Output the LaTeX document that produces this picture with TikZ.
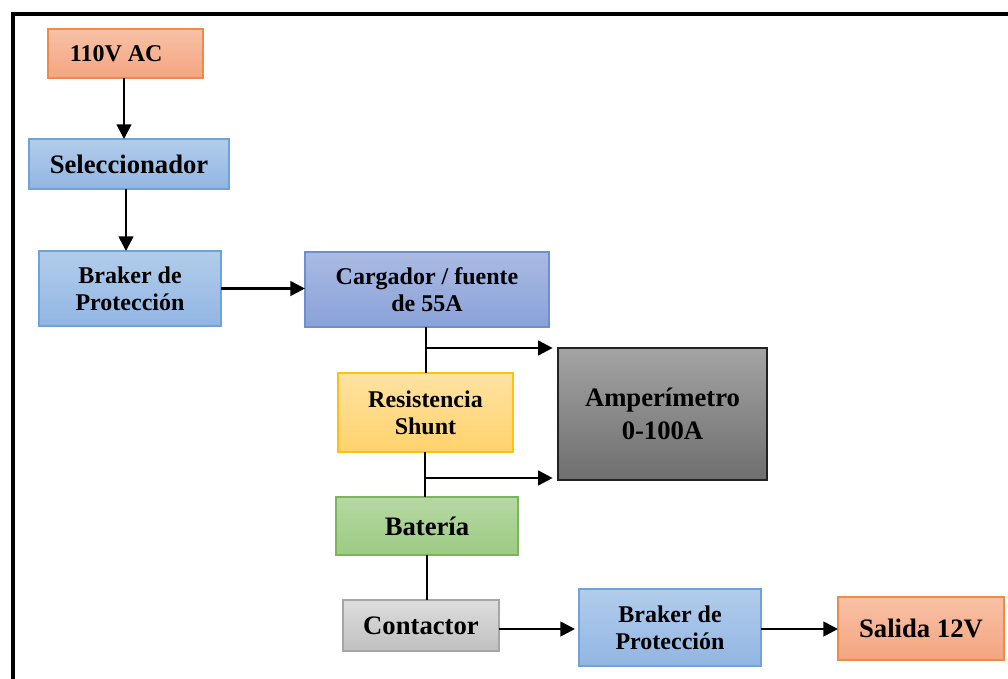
\documentclass[tikz,border=0pt]{standalone}
\usepackage{fontspec}
\setmainfont{Liberation Serif}
\usetikzlibrary{arrows.meta,calc}
\definecolor{orT}{HTML}{F8C1A6}\definecolor{orB}{HTML}{F4A580}\definecolor{orD}{HTML}{EF8A48}
\definecolor{blT}{HTML}{B2CDEB}\definecolor{blB}{HTML}{91B5E3}\definecolor{blD}{HTML}{6FA2D8}
\definecolor{cgT}{HTML}{AABAE3}\definecolor{cgB}{HTML}{8AA2D9}\definecolor{cgD}{HTML}{6C8FD0}
\definecolor{ylT}{HTML}{FFE3A2}\definecolor{ylB}{HTML}{FFD26C}\definecolor{ylD}{HTML}{FFC20A}
\definecolor{amT}{HTML}{A4A4A4}\definecolor{amB}{HTML}{6E6E6E}\definecolor{amD}{HTML}{222222}
\definecolor{gnT}{HTML}{B6D8A4}\definecolor{gnB}{HTML}{9CCB83}\definecolor{gnD}{HTML}{7CB45A}
\definecolor{ctT}{HTML}{DDDDDD}\definecolor{ctB}{HTML}{C0C0C0}\definecolor{ctD}{HTML}{A6A6A6}
\begin{document}
\begin{tikzpicture}[x=0.75pt,y=-0.75pt,
  box/.style={inner sep=0pt,outer sep=0pt,line width=0.9pt,align=center,font=\bfseries\fontsize{18}{20.5}\selectfont},
  big/.style={font=\bfseries\fontsize{20}{25}\selectfont},
  orbox/.style={box,draw=orD,top color=orT,bottom color=orB},
  blbox/.style={box,draw=blD,top color=blT,bottom color=blB},
  cgbox/.style={box,draw=cgD,top color=cgT,bottom color=cgB},
  ylbox/.style={box,draw=ylD,top color=ylT,bottom color=ylB},
  ambox/.style={box,draw=amD,top color=amT,bottom color=amB},
  gnbox/.style={box,draw=gnD,top color=gnT,bottom color=gnB},
  ctbox/.style={box,draw=ctD,top color=ctT,bottom color=ctB},
  arr/.style={line width=2pt,-{Triangle[length=11pt,width=11pt]}},
  ln/.style={line width=2pt},
  frame/.style={line width=3pt,line cap=rect}]
\useasboundingbox (0,0) rectangle (1008,679);
\draw[frame] (13,690) -- (13,14) -- (1020,14);

\node[orbox,minimum width=116.25pt,minimum height=36.75pt] (ac) at (125.5,53.5) {\hbox{110V AC\hspace*{14pt}}};
\node[blbox,big,minimum width=150pt,minimum height=37.5pt] (sel) at (129,164) {Seleccionador};
\node[blbox,minimum width=136.5pt,minimum height=56.25pt] (br1) at (130,288.5) {Braker de\\Protección};
\node[cgbox,minimum width=183pt,minimum height=56.25pt] (car) at (427,289.5) {Cargador / fuente\\de 55A};
\node[ylbox,minimum width=131.25pt,minimum height=59.25pt] (res) at (425.5,412.5) {Resistencia\\Shunt};
\node[ambox,big,minimum width=156.75pt,minimum height=99pt] (amp) at (662.5,414) {Amperímetro\\0-100A};
\node[gnbox,big,minimum width=136.5pt,minimum height=43.5pt] (bat) at (427,526) {Batería};
\node[ctbox,big,minimum width=117pt,minimum height=38.25pt] (con) at (421,625.5) {Contactor};
\node[blbox,minimum width=136.5pt,minimum height=57.75pt] (br2) at (670,627.5) {Braker de\\Protección};
\node[orbox,big,minimum width=124.5pt,minimum height=47.25pt] (sal) at (921,628.5) {Salida 12V};

\coordinate (j1) at (426,348);
\coordinate (j2) at (425,478);
\coordinate (a1) at (124,0);
\coordinate (a2) at (126,0);
\coordinate (h) at (0,629);

\draw[arr] (ac.south -| a1) -- (sel.north -| a1);
\draw[arr] (sel.south -| a2) -- (br1.north -| a2);
\draw[arr] (br1.east) -- (br1.east -| car.west);
\draw[ln] (car.south -| j1) -- (res.north -| j1);
\draw[arr,shorten >=4pt] (j1) -- (j1 -| amp.west);
\draw[ln] (res.south -| j2) -- (bat.north -| j2);
\draw[arr,shorten >=4pt] (j2) -- (j2 -| amp.west);
\draw[ln] (bat.south) -- (con.north -| bat.south);
\draw[arr,shorten >=3pt] (con.east |- h) -- (br2.west |- h);
\draw[arr] (br2.east |- h) -- (sal.west |- h);
\end{tikzpicture}
\end{document}
